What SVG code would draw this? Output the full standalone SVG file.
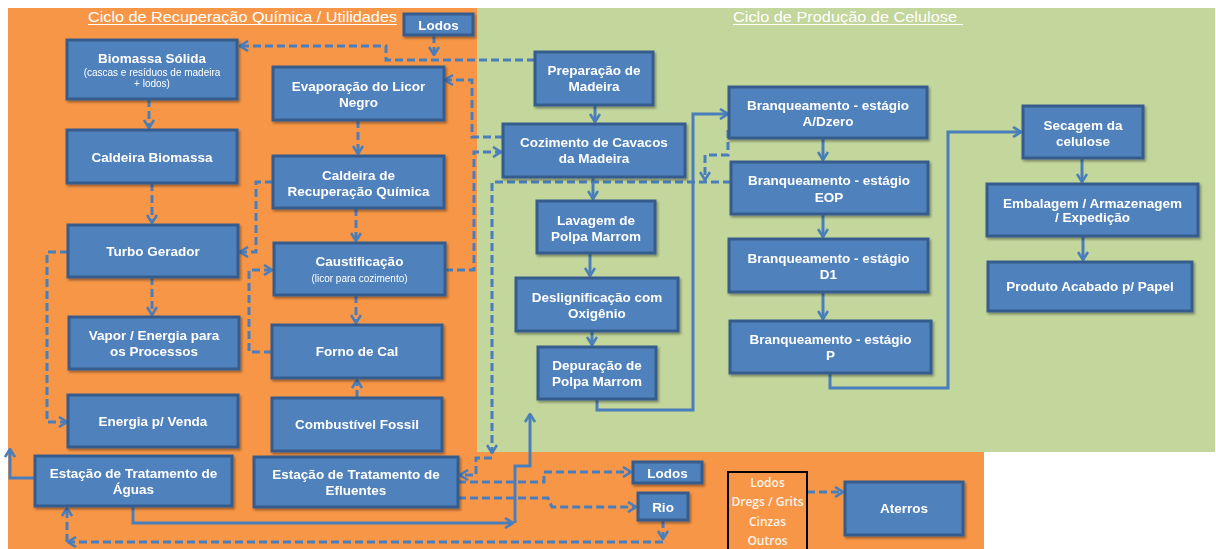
<svg xmlns="http://www.w3.org/2000/svg" width="1216" height="549" viewBox="0 0 1216 549">
<defs>
<style>
.bx{fill:#4F81BD;stroke:#365C8C;stroke-width:3}
.t{font-family:"Liberation Sans",Arial,sans-serif;font-weight:bold;font-size:13.5px;fill:#fff;text-anchor:middle}
.s{font-weight:normal;font-size:10px}
.d{fill:none;stroke:#4A7EBB;stroke-width:3;stroke-dasharray:8 4}
.l{fill:none;stroke:#4A7EBB;stroke-width:3}
.ttl{font-family:"Liberation Sans",Arial,sans-serif;font-size:15.5px;fill:#fff}
.ul{stroke:#fff;stroke-width:1.2}
.ob{font-family:"Open Sans","Liberation Sans",sans-serif;font-weight:600;font-size:12px;fill:#FFF3E8;text-anchor:middle}
</style>
<marker id="a" viewBox="0 0 10 12" refX="9" refY="6" markerWidth="10" markerHeight="12" markerUnits="userSpaceOnUse" orient="auto">
<path d="M1,1 L9,6 L1,11" fill="none" stroke="#4A7EBB" stroke-width="2.6"/>
</marker>
<filter id="sh" x="-10%" y="-10%" width="130%" height="140%">
<feDropShadow dx="1.5" dy="2" stdDeviation="1.2" flood-color="#000" flood-opacity="0.35"/>
</filter>
</defs>
<rect x="0" y="0" width="1216" height="549" fill="#fff"/>
<rect x="8" y="8" width="470" height="444" fill="#F79646"/>
<rect x="477" y="8" width="738" height="444" fill="#C3D69B"/>
<rect x="8" y="452" width="976" height="97" fill="#F79646"/>

<g id="titles">
<text class="ttl" x="88" y="22" textLength="309" lengthAdjust="spacingAndGlyphs">Ciclo de Recuperação Química / Utilidades</text>
<line class="ul" x1="88" y1="24.5" x2="397" y2="24.5"/>
<text class="ttl" x="733" y="22" textLength="224" lengthAdjust="spacingAndGlyphs">Ciclo de Produção de Celulose</text>
<line class="ul" x1="733" y1="24.5" x2="963" y2="24.5"/>
</g>

<g id="connectors">
<path class="d" d="M434,35 V55" marker-end="url(#a)"/>
<path class="d" d="M535,60 H386 V46 H240" marker-end="url(#a)"/>
<path class="d" d="M503,137 H472 V80 H445" marker-end="url(#a)"/>
<path class="d" d="M445,270 H474 V152 H501" marker-end="url(#a)"/>
<path class="d" d="M273,182 H256 V252 H240" marker-end="url(#a)"/>
<path class="d" d="M272,352 H249 V270 H272" marker-end="url(#a)"/>
<path class="d" d="M68,252 H47 V422 H67" marker-end="url(#a)"/>
<path class="d" d="M149,99 V128" marker-end="url(#a)"/>
<path class="d" d="M152,183 V223" marker-end="url(#a)"/>
<path class="d" d="M152,277 V315" marker-end="url(#a)"/>
<path class="d" d="M358,120 V154" marker-end="url(#a)"/>
<path class="d" d="M356,208 V241" marker-end="url(#a)"/>
<path class="d" d="M356,295 V323" marker-end="url(#a)"/>
<path class="d" d="M357,398 V380" marker-end="url(#a)"/>
<path class="d" d="M731,182 H492 V453" marker-end="url(#a)"/>
<path class="d" d="M492,458 H476 V475 H460" marker-end="url(#a)"/>
<path class="d" d="M728,130 V155 H705 V180" marker-end="url(#a)"/>
<path class="d" d="M458,482 H544 V472 H631" marker-end="url(#a)"/>
<path class="d" d="M458,498 H548 L552,507 H636" marker-end="url(#a)"/>
<path class="d" d="M663,520 V539" marker-end="url(#a)"/>
<path class="d" d="M663,542 H68" marker-end="url(#a)"/>
<path class="d" d="M67,542 V508" marker-end="url(#a)"/>
<path class="d" d="M807,492 H843" marker-end="url(#a)"/>

<path class="l" d="M35,478 H10 V449" marker-end="url(#a)"/>
<path class="l" d="M133,506 V523 H513" marker-end="url(#a)"/>
<path class="l" d="M515,523 V466 H530 V414" marker-end="url(#a)"/>
<path class="l" d="M595,105 V122" marker-end="url(#a)"/>
<path class="l" d="M593,177 V199" marker-end="url(#a)"/>
<path class="l" d="M590,253 V276" marker-end="url(#a)"/>
<path class="l" d="M592,331 V345" marker-end="url(#a)"/>
<path class="l" d="M597,399 V410 H693 V114 H728" marker-end="url(#a)"/>
<path class="l" d="M823,138 V160" marker-end="url(#a)"/>
<path class="l" d="M823,214 V237" marker-end="url(#a)"/>
<path class="l" d="M823,292 V319" marker-end="url(#a)"/>
<path class="l" d="M830,373 V388 H948 V132 H1021" marker-end="url(#a)"/>
<path class="l" d="M1082,158 V182" marker-end="url(#a)"/>
<path class="l" d="M1083,236 V260" marker-end="url(#a)"/>
</g>

<g id="lodos-top" filter="url(#sh)"><rect class="bx" x="404" y="14" width="69" height="21"/><text class="t" x="438.5" y="29.5">Lodos</text></g>
<g id="biomassa-solida" filter="url(#sh)"><rect class="bx" x="67" y="40" width="170" height="59"/><text class="t" x="152" y="63">Biomassa  Sólida</text><text class="t s" x="152" y="76">(cascas e resíduos de madeira</text><text class="t s" x="152" y="87">+ lodos)</text></g>
<g id="evaporacao" filter="url(#sh)"><rect class="bx" x="273" y="67" width="171" height="53"/><text class="t" x="358.5" y="90.5">Evaporação do Licor</text><text class="t" x="358.5" y="106.5">Negro</text></g>
<g id="preparacao" filter="url(#sh)"><rect class="bx" x="535" y="52" width="118" height="53"/><text class="t" x="594" y="74.5">Preparação de</text><text class="t" x="594" y="91">Madeira</text></g>
<g id="cozimento" filter="url(#sh)"><rect class="bx" x="503" y="124" width="182" height="53"/><text class="t" x="594" y="146.5">Cozimento de Cavacos</text><text class="t" x="594" y="162.5">da Madeira</text></g>
<g id="branq-adzero" filter="url(#sh)"><rect class="bx" x="729" y="87" width="198" height="51"/><text class="t" x="828" y="109.5">Branqueamento - estágio</text><text class="t" x="828" y="126">A/Dzero</text></g>
<g id="secagem" filter="url(#sh)"><rect class="bx" x="1023" y="106" width="120" height="52"/><text class="t" x="1083" y="129.5">Secagem da</text><text class="t" x="1083" y="145.5">celulose</text></g>
<g id="caldeira-biomassa" filter="url(#sh)"><rect class="bx" x="67" y="130" width="170" height="53"/><text class="t" x="152" y="161.5">Caldeira Biomassa</text></g>
<g id="caldeira-recuperacao" filter="url(#sh)"><rect class="bx" x="273" y="156" width="171" height="52"/><text class="t" x="358.5" y="179.5">Caldeira de</text><text class="t" x="358.5" y="195.5">Recuperação Química</text></g>
<g id="branq-eop" filter="url(#sh)"><rect class="bx" x="731" y="162" width="197" height="52"/><text class="t" x="829" y="184.5">Branqueamento - estágio</text><text class="t" x="829" y="201.5">EOP</text></g>
<g id="embalagem" filter="url(#sh)"><rect class="bx" x="987" y="184" width="211" height="52"/><text class="t" x="1092.5" y="207.5">Embalagem  /  Armazenagem</text><text class="t" x="1092.5" y="222">/ Expedição</text></g>
<g id="lavagem" filter="url(#sh)"><rect class="bx" x="537" y="201" width="118" height="52"/><text class="t" x="596" y="224.5">Lavagem de</text><text class="t" x="596" y="240.5">Polpa Marrom</text></g>
<g id="turbo-gerador" filter="url(#sh)"><rect class="bx" x="68" y="225" width="170" height="52"/><text class="t" x="153" y="255.5">Turbo Gerador</text></g>
<g id="caustificacao" filter="url(#sh)"><rect class="bx" x="274" y="243" width="171" height="52"/><text class="t" x="359.5" y="265.5">Caustificação</text><text class="t s" x="359.5" y="281.5">(licor para cozimento)</text></g>
<g id="branq-d1" filter="url(#sh)"><rect class="bx" x="729" y="239" width="199" height="53"/><text class="t" x="828.5" y="262.5">Branqueamento - estágio</text><text class="t" x="828.5" y="279">D1</text></g>
<g id="produto-acabado" filter="url(#sh)"><rect class="bx" x="988" y="262" width="204" height="49"/><text class="t" x="1090" y="290.5">Produto Acabado  p/ Papel</text></g>
<g id="deslignificacao" filter="url(#sh)"><rect class="bx" x="516" y="278" width="162" height="53"/><text class="t" x="597" y="301.5">Deslignificação com</text><text class="t" x="597" y="317.5">Oxigênio</text></g>
<g id="vapor-energia" filter="url(#sh)"><rect class="bx" x="69" y="317" width="170" height="52"/><text class="t" x="154" y="340">Vapor / Energia para</text><text class="t" x="154" y="356">os Processos</text></g>
<g id="forno-cal" filter="url(#sh)"><rect class="bx" x="272" y="325" width="170" height="53"/><text class="t" x="357" y="356">Forno de Cal</text></g>
<g id="depuracao" filter="url(#sh)"><rect class="bx" x="538" y="347" width="118" height="52"/><text class="t" x="597" y="369.5">Depuração de</text><text class="t" x="597" y="385.5">Polpa Marrom</text></g>
<g id="branq-p" filter="url(#sh)"><rect class="bx" x="730" y="321" width="201" height="52"/><text class="t" x="830.5" y="343.5">Branqueamento - estágio</text><text class="t" x="830.5" y="359.5">P</text></g>
<g id="energia-venda" filter="url(#sh)"><rect class="bx" x="68" y="395" width="170" height="52"/><text class="t" x="153" y="425.5">Energia p/ Venda</text></g>
<g id="combustivel-fossil" filter="url(#sh)"><rect class="bx" x="272" y="398" width="170" height="53"/><text class="t" x="357" y="429">Combustível Fossil</text></g>
<g id="eta" filter="url(#sh)"><rect class="bx" x="35" y="456" width="197" height="50"/><text class="t" x="133.5" y="477.5">Estação de Tratamento de</text><text class="t" x="133.5" y="493.5">Águas</text></g>
<g id="ete" filter="url(#sh)"><rect class="bx" x="254" y="457" width="204" height="50"/><text class="t" x="356" y="478.5">Estação de Tratamento de</text><text class="t" x="356" y="494.5">Efluentes</text></g>
<g id="lodos-bottom" filter="url(#sh)"><rect class="bx" x="633" y="462" width="69" height="21"/><text class="t" x="667.5" y="477.5">Lodos</text></g>
<g id="rio" filter="url(#sh)"><rect class="bx" x="638" y="493" width="50" height="27"/><text class="t" x="663" y="511.5">Rio</text></g>
<g id="residuos"><rect x="728" y="472" width="79" height="80" fill="none" stroke="#000" stroke-width="2"/><text class="ob" x="767.5" y="487">Lodos</text><text class="ob" x="767.5" y="506">Dregs / Grits</text><text class="ob" x="767.5" y="526">Cinzas</text><text class="ob" x="767.5" y="545">Outros</text></g>
<g id="aterros" filter="url(#sh)"><rect class="bx" x="845" y="482" width="118" height="53"/><text class="t" x="904" y="512.5">Aterros</text></g>
</svg>
